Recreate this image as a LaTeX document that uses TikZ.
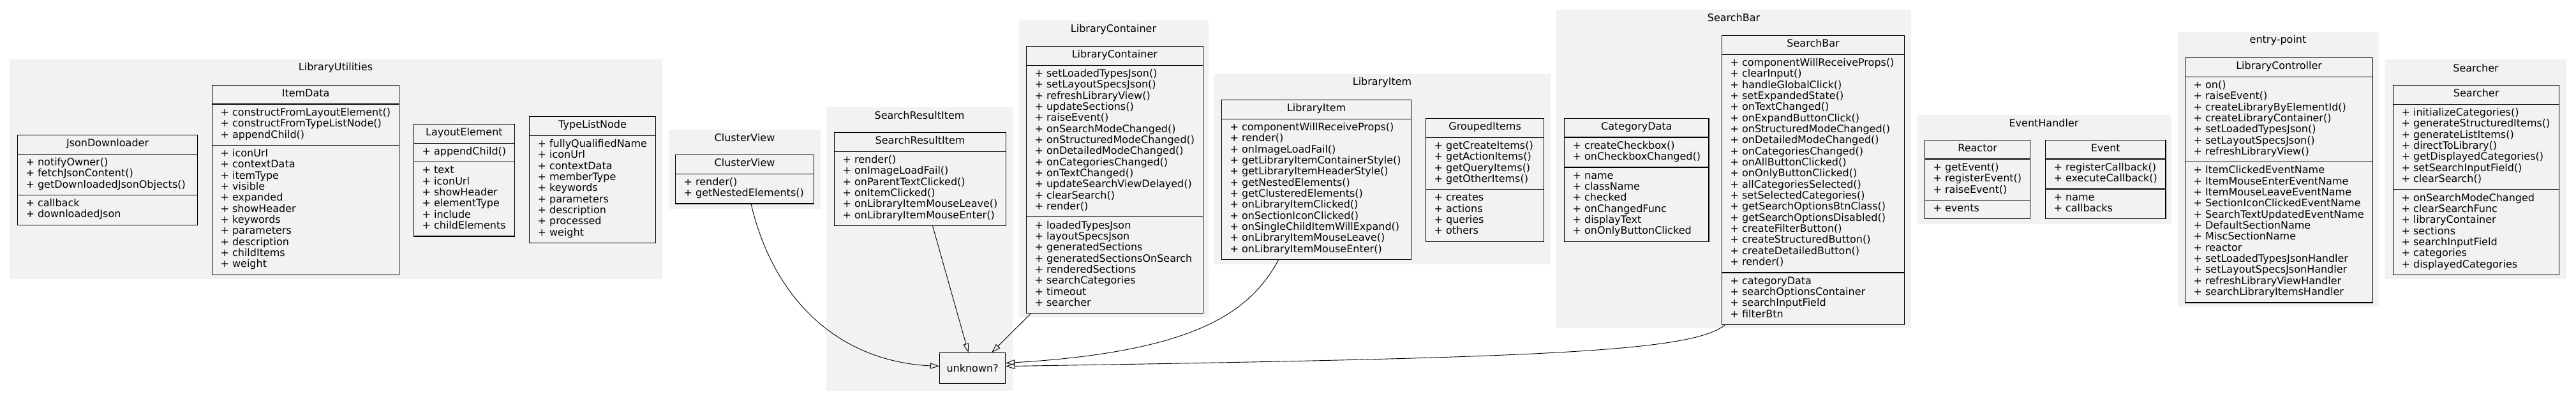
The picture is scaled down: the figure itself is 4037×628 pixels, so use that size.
\documentclass[tikz,border=0pt]{standalone}
\usepackage{fontspec}
\setmainfont{DejaVu Sans}
\usetikzlibrary{arrows.meta,shapes.multipart,positioning}
\definecolor{pkggray}{HTML}{F2F2F2}
\newcommand{\umlfont}{\fontsize{16}{17.3}\selectfont}
\newcommand{\members}[1]{\begin{tabular}{@{}l@{}}#1\end{tabular}}

\begin{document}
\begin{tikzpicture}[x=1pt,y=-1pt,
  pkg/.style={fill=pkggray},
  pkglabel/.style={font=\umlfont, inner sep=0pt},
  umlclass/.style={draw, line width=1.2pt, fill=pkggray, anchor=north west, font=\umlfont,
    rectangle split, rectangle split part align={center,left,left},
    inner xsep=13pt, inner ysep=5.5pt},
  inherit/.style={-{Triangle[open,length=14pt,width=9pt]}, line width=0.9pt},
]
\fill[white] (0,0) rectangle (4037,628);
\useasboundingbox (0,0) rectangle (4037,628);

% packages
\fill[pkg] (15,93) rectangle (1038,437);
\node[pkglabel] (lblUtilities) at (526,106) {LibraryUtilities};
\fill[pkg] (1048,203) rectangle (1286,327);
\node[pkglabel] (lblClusterView) at (1167,216) {ClusterView};
\fill[pkg] (1295,168) rectangle (1587,612);
\node[pkglabel] (lblResultItem) at (1441,181) {SearchResultItem};
\fill[pkg] (1597,32) rectangle (1894,497);
\node[pkglabel] (lblContainer) at (1745,46) {LibraryContainer};
\fill[pkg] (1903,116) rectangle (2430,414);
\node[pkglabel] (lblItem) at (2166,129) {LibraryItem};
\fill[pkg] (2439,15) rectangle (2995,514);
\node[pkglabel] (lblSearchBar) at (2717,28) {SearchBar};
\fill[pkg] (3004,180) rectangle (3403,351);
\node[pkglabel] (lblEventHandler) at (3203,193) {EventHandler};
\fill[pkg] (3413,50) rectangle (3728,480);
\node[pkglabel] (lblEntry) at (3570,63) {entry-point};
\fill[pkg] (3738,93) rectangle (4022,437);
\node[pkglabel] (lblSearcher) at (3880,107) {Searcher};

% LibraryUtilities
\node[umlclass, rectangle split parts=3, minimum width=282pt] (JsonDownloader) at (27,211)
  {\strut JsonDownloader
   \nodepart{second}\members{+ notifyOwner()\\+ fetchJsonContent()\\+ getDownloadedJsonObjects()}
   \nodepart{third}\members{+ callback\\+ downloadedJson}};
\node[umlclass, rectangle split parts=3, minimum width=293pt] (ItemData) at (332,133)
  {\strut ItemData
   \nodepart{second}\members{+ constructFromLayoutElement()\\+ constructFromTypeListNode()\\+ appendChild()}
   \nodepart{third}\members{+ iconUrl\\+ contextData\\+ itemType\\+ visible\\+ expanded\\+ showHeader\\+ keywords\\+ parameters\\+ description\\+ childItems\\+ weight}};
\node[umlclass, rectangle split parts=3, minimum width=157pt] (LayoutElement) at (648,194)
  {\strut LayoutElement
   \nodepart{second}\members{+ appendChild()}
   \nodepart{third}\members{+ text\\+ iconUrl\\+ showHeader\\+ elementType\\+ include\\+ childElements}};
\node[umlclass, rectangle split parts=2, minimum width=198pt] (TypeListNode) at (829,182)
  {\strut TypeListNode
   \nodepart{second}\members{+ fullyQualifiedName\\+ iconUrl\\+ contextData\\+ memberType\\+ keywords\\+ parameters\\+ description\\+ processed\\+ weight}};

% components
\node[umlclass, rectangle split parts=2, minimum width=217pt] (ClusterView) at (1058,242)
  {\strut ClusterView
   \nodepart{second}\members{+ render()\\+ getNestedElements()}};
\node[umlclass, rectangle split parts=2, minimum width=269pt] (SearchResultItem) at (1307,207)
  {\strut SearchResultItem
   \nodepart{second}\members{+ render()\\+ onImageLoadFail()\\+ onParentTextClicked()\\+ onItemClicked()\\+ onLibraryItemMouseLeave()\\+ onLibraryItemMouseEnter()}};
\node[draw, line width=1.2pt, fill=pkggray, font=\umlfont, anchor=north west,
  minimum width=103pt, minimum height=48pt] (unknown) at (1472,552) {unknown?};
\node[umlclass, rectangle split parts=3, minimum width=274pt] (LibraryContainer) at (1608,72)
  {\strut LibraryContainer
   \nodepart{second}\members{+ setLoadedTypesJson()\\+ setLayoutSpecsJson()\\+ refreshLibraryView()\\+ updateSections()\\+ raiseEvent()\\+ onSearchModeChanged()\\+ onStructuredModeChanged()\\+ onDetailedModeChanged()\\+ onCategoriesChanged()\\+ onTextChanged()\\+ updateSearchViewDelayed()\\+ clearSearch()\\+ render()}
   \nodepart{third}\members{+ loadedTypesJson\\+ layoutSpecsJson\\+ generatedSections\\+ generatedSectionsOnSearch\\+ renderedSections\\+ searchCategories\\+ timeout\\+ searcher}};
\node[umlclass, rectangle split parts=2, minimum width=297pt] (LibraryItem) at (1914,156)
  {\strut LibraryItem
   \nodepart{second}\members{+ componentWillReceiveProps()\\+ render()\\+ onImageLoadFail()\\+ getLibraryItemContainerStyle()\\+ getLibraryItemHeaderStyle()\\+ getNestedElements()\\+ getClusteredElements()\\+ onLibraryItemClicked()\\+ onSectionIconClicked()\\+ onSingleChildItemWillExpand()\\+ onLibraryItemMouseLeave()\\+ onLibraryItemMouseEnter()}};
\node[umlclass, rectangle split parts=3, minimum width=185pt] (GroupedItems) at (2234,185)
  {\strut GroupedItems
   \nodepart{second}\members{+ getCreateItems()\\+ getActionItems()\\+ getQueryItems()\\+ getOtherItems()}
   \nodepart{third}\members{+ creates\\+ actions\\+ queries\\+ others}};
\node[umlclass, rectangle split parts=3, minimum width=223pt] (CategoryData) at (2451,185)
  {\strut CategoryData
   \nodepart{second}\members{+ createCheckbox()\\+ onCheckboxChanged()}
   \nodepart{third}\members{+ name\\+ className\\+ checked\\+ onChangedFunc\\+ displayText\\+ onOnlyButtonClicked}};
\node[umlclass, rectangle split parts=3, minimum width=286pt] (SearchBar) at (2698,55)
  {\strut SearchBar
   \nodepart{second}\members{+ componentWillReceiveProps()\\+ clearInput()\\+ handleGlobalClick()\\+ setExpandedState()\\+ onTextChanged()\\+ onExpandButtonClick()\\+ onStructuredModeChanged()\\+ onDetailedModeChanged()\\+ onCategoriesChanged()\\+ onAllButtonClicked()\\+ onOnlyButtonClicked()\\+ allCategoriesSelected()\\+ setSelectedCategories()\\+ getSearchOptionsBtnClass()\\+ getSearchOptionsDisabled()\\+ createFilterButton()\\+ createStructuredButton()\\+ createDetailedButton()\\+ render()}
   \nodepart{third}\members{+ categoryData\\+ searchOptionsContainer\\+ searchInputField\\+ filterBtn}};

% EventHandler
\node[umlclass, rectangle split parts=3, minimum width=165pt] (Reactor) at (3016,219)
  {\strut Reactor
   \nodepart{second}\members{+ getEvent()\\+ registerEvent()\\+ raiseEvent()}
   \nodepart{third}\members{+ events}};
\node[umlclass, rectangle split parts=3, minimum width=188pt] (Event) at (3205,219)
  {\strut Event
   \nodepart{second}\members{+ registerCallback()\\+ executeCallback()}
   \nodepart{third}\members{+ name\\+ callbacks}};

% entry-point and Searcher
\node[umlclass, rectangle split parts=3, minimum width=294pt] (LibraryController) at (3424,90)
  {\strut LibraryController
   \nodepart{second}\members{+ on()\\+ raiseEvent()\\+ createLibraryByElementId()\\+ createLibraryContainer()\\+ setLoadedTypesJson()\\+ setLayoutSpecsJson()\\+ refreshLibraryView()}
   \nodepart{third}\members{+ ItemClickedEventName\\+ ItemMouseEnterEventName\\+ ItemMouseLeaveEventName\\+ SectionIconClickedEventName\\+ SearchTextUpdatedEventName\\+ DefaultSectionName\\+ MiscSectionName\\+ reactor\\+ setLoadedTypesJsonHandler\\+ setLayoutSpecsJsonHandler\\+ refreshLibraryViewHandler\\+ searchLibraryItemsHandler}};
\node[umlclass, rectangle split parts=3, minimum width=260pt] (Searcher) at (3750,133)
  {\strut Searcher
   \nodepart{second}\members{+ initializeCategories()\\+ generateStructuredItems()\\+ generateListItems()\\+ directToLibrary()\\+ getDisplayedCategories()\\+ setSearchInputField()\\+ clearSearch()}
   \nodepart{third}\members{+ onSearchModeChanged\\+ clearSearchFunc\\+ libraryContainer\\+ sections\\+ searchInputField\\+ categories\\+ displayedCategories}};

% inheritance edges
\draw[inherit] ([xshift=10pt]ClusterView.south) .. controls +(34,145) and +(-162,-8) .. ([yshift=3pt]unknown.west);
\draw[inherit] ([xshift=19.5pt]SearchResultItem.south) -- ([xshift=-6.5pt]unknown.north);
\draw[inherit] ([xshift=7pt]LibraryContainer.south west) -- ([xshift=-22pt]unknown.north east);
\draw[inherit] ([xshift=-59.5pt]LibraryItem.south) .. controls +(-43,78) and +(305,-18) .. ([yshift=8pt]unknown.east);
\draw[inherit] ([xshift=5pt]SearchBar.south west) .. controls +(-53,43) and +(825,-13) .. ([yshift=3pt]unknown.east);
\end{tikzpicture}
\end{document}
